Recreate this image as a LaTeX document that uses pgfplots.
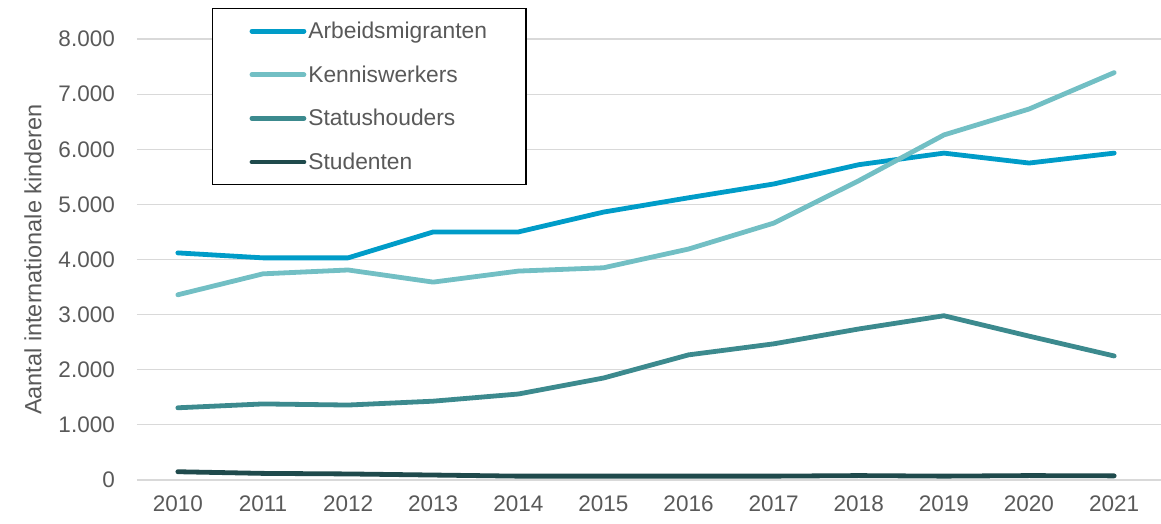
\documentclass[border=0pt]{standalone}
\usepackage{pgfplots}
\pgfplotsset{compat=1.18}
\usepackage{fontspec}
\setmainfont{Liberation Sans}
\definecolor{arb}{HTML}{009CC8}
\definecolor{ken}{HTML}{72BFC4}
\definecolor{sta}{HTML}{3C8A8E}
\definecolor{stu}{HTML}{1F4A4C}
\definecolor{txt}{HTML}{595959}
\definecolor{grd}{HTML}{D9D9D9}
\begin{document}
\begin{tikzpicture}
\useasboundingbox (-137pt,-43pt) rectangle (1024pt,480pt);
\begin{axis}[
  at={(0pt,0pt)}, anchor=south west,
  scale only axis, width=1024pt, height=441pt,
  xmin=2009.52, xmax=2021.55, ymin=0, ymax=8000,
  axis line style={draw=none}, tick style={draw=none}, major tick length=0pt,
  ymajorgrids, grid style={grd, line width=1.2pt},
  ytick={0,1000,...,8000}, xtick={2010,...,2021},
  /pgf/number format/assume math mode=true,
  yticklabel style={/pgf/number format/.cd, 1000 sep={.}, /tikz/.cd, font=\fontsize{22.5}{26}\selectfont, text=txt, anchor=east, inner sep=0pt, xshift=-22pt},
  xticklabel style={/pgf/number format/.cd, 1000 sep={}, /tikz/.cd, font=\fontsize{22.5}{26}\selectfont, text=txt, anchor=north, inner sep=0pt, yshift=-16pt},
  ylabel={Aantal internationale kinderen},
  ylabel style={at={(axis description cs:-0.1016,0.5)}, anchor=center, font=\fontsize{23.5}{27}\selectfont, text=txt},
  clip=false,
  legend cell align=left,
  legend image code/.code={\draw[#1,line width=4.8pt,line cap=round] (0pt,0pt) -- (52pt,0pt);},
  legend style={at={(rel axis cs:0.0732,1.0703)}, anchor=north west, draw=black, line width=1.2pt,
    font=\fontsize{22.8}{26}\selectfont, text=txt, inner xsep=37pt, inner ysep=11.5pt, row sep=21.6pt},
]
\addplot[arb, line width=4.8pt, line cap=round, line join=round] coordinates {
(2010,4120) (2011,4030) (2012,4030) (2013,4500) (2014,4500) (2015,4860) (2016,5120) (2017,5370) (2018,5720) (2019,5930) (2020,5750) (2021,5930)};
\addlegendentry{Arbeidsmigranten}
\addplot[ken, line width=4.8pt, line cap=round, line join=round] coordinates {
(2010,3360) (2011,3740) (2012,3810) (2013,3590) (2014,3790) (2015,3850) (2016,4190) (2017,4660) (2018,5430) (2019,6260) (2020,6730) (2021,7390)};
\addlegendentry{Kenniswerkers}
\addplot[sta, line width=4.8pt, line cap=round, line join=round] coordinates {
(2010,1310) (2011,1380) (2012,1360) (2013,1430) (2014,1560) (2015,1850) (2016,2270) (2017,2470) (2018,2740) (2019,2980) (2020,2610) (2021,2250)};
\addlegendentry{Statushouders}
\addplot[stu, line width=4.8pt, line cap=round, line join=round] coordinates {
(2010,150) (2011,120) (2012,110) (2013,90) (2014,70) (2015,70) (2016,70) (2017,70) (2018,80) (2019,70) (2020,80) (2021,75)};
\addlegendentry{Studenten}
\end{axis}
\end{tikzpicture}
\end{document}
